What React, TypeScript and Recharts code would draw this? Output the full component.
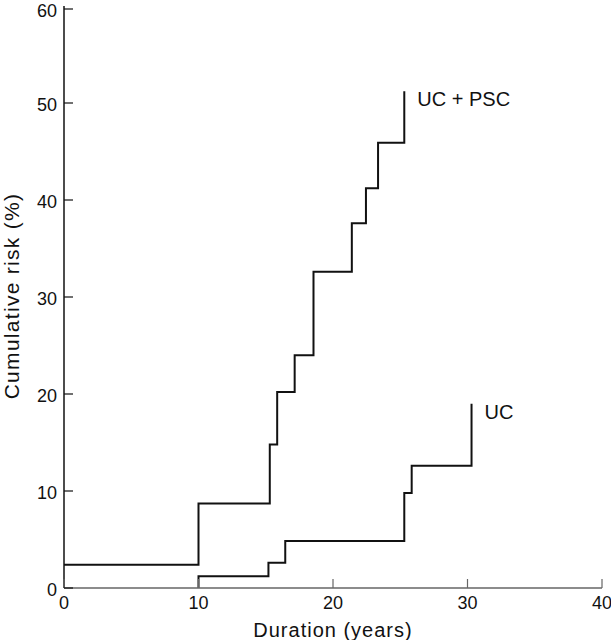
import { LineChart, Line, XAxis, YAxis, Label } from 'recharts'

// Kaplan-Meier style cumulative risk
const ucPscX = [0, 10, 15.3, 15.85, 17.15, 18.55, 21.4, 22.45, 23.35, 25.3, 25.3]
const ucPscY = [2.4, 8.7, 14.8, 20.2, 24.0, 32.6, 37.6, 41.2, 45.9, 51.2, 51.2]
const ucX = [10, 10, 15.2, 16.45, 25.3, 25.85, 30.3, 30.3]
const ucY = [0, 1.2, 2.6, 4.85, 9.8, 12.6, 19.0, 19.0]

const xTicks = [0, 10, 20, 30, 40]
const yTicks = [0, 10, 20, 30, 40, 50, 60]

const ucPsc = ucPscX.map((x, i) => ({ x, y: ucPscY[i] }))
const uc = ucX.map((x, i) => ({ x, y: ucY[i] }))

const FONT = '"Liberation Sans", Arial, sans-serif'
const INK = '#111'

const XTick = ({ x, y, payload }: any) => (
  <g>
    <line x1={x} y1={y} x2={x} y2={y - 9} stroke="#666" strokeWidth={1.2} />
    <text x={x} y={y + 21} textAnchor="middle" fontSize={18} fontFamily={FONT} fill={INK}>
      {payload.value}
    </text>
  </g>
)

const YTick = ({ x, y, payload }: any) => (
  <g>
    <line x1={x} y1={y} x2={x + 9} y2={y} stroke={INK} strokeWidth={1.2} />
    <text x={x - 7} y={y + 7.5} textAnchor="end" fontSize={18} fontFamily={FONT} fill={INK}>
      {payload.value}
    </text>
  </g>
)

const XTitle = ({ viewBox }: any) => (
  <text
    x={viewBox.x + viewBox.width / 2}
    y={viewBox.y + 49}
    textAnchor="middle"
    fontSize={20}
    letterSpacing={1}
    fontFamily={FONT}
    fill={INK}
  >
    Duration (years)
  </text>
)

const YTitle = ({ viewBox }: any) => {
  const cx = 19
  const cy = viewBox.y + viewBox.height / 2 - 1
  return (
    <text
      x={cx}
      y={cy}
      transform={`rotate(-90 ${cx} ${cy})`}
      textAnchor="middle"
      fontSize={21}
      letterSpacing={1.3}
      fontFamily={FONT}
      fill={INK}
    >
      Cumulative risk (%)
    </text>
  )
}

const endLabel = (text: string, last: number) => (props: any) => {
  if (props.index !== last) return null
  return (
    <text x={props.x + 13} y={props.y + 15} fontSize={20} fontFamily={FONT} fill={INK}>
      {text}
    </text>
  )
}

export default function App() {
  return (
    <div style={{ position: 'absolute', left: 0, top: 0, background: '#fff' }}>
      <LineChart width={611} height={640} margin={{ top: 6, right: 9, bottom: 0, left: 0 }}>
        <XAxis
          type="number"
          dataKey="x"
          domain={[0, 40]}
          ticks={xTicks}
          allowDataOverflow
          height={52}
          tickSize={0}
          tickMargin={0}
          tickLine={false}
          tick={<XTick />}
          axisLine={{ stroke: '#666', strokeWidth: 1.5 }}
        >
          <Label content={<XTitle />} />
        </XAxis>
        <YAxis
          type="number"
          dataKey="y"
          domain={[0, 60]}
          ticks={yTicks}
          width={64}
          tickSize={0}
          tickMargin={0}
          tickLine={false}
          tick={<YTick />}
          axisLine={{ stroke: INK, strokeWidth: 1.5 }}
        >
          <Label content={<YTitle />} />
        </YAxis>
        <Line
          data={ucPsc}
          dataKey="y"
          type="stepAfter"
          stroke={INK}
          strokeWidth={2}
          dot={false}
          activeDot={false}
          isAnimationActive={false}
          label={endLabel('UC + PSC', ucPsc.length - 1)}
        />
        <Line
          data={uc}
          dataKey="y"
          type="stepAfter"
          stroke={INK}
          strokeWidth={2}
          dot={false}
          activeDot={false}
          isAnimationActive={false}
          label={endLabel('UC', uc.length - 1)}
        />
      </LineChart>
    </div>
  )
}
